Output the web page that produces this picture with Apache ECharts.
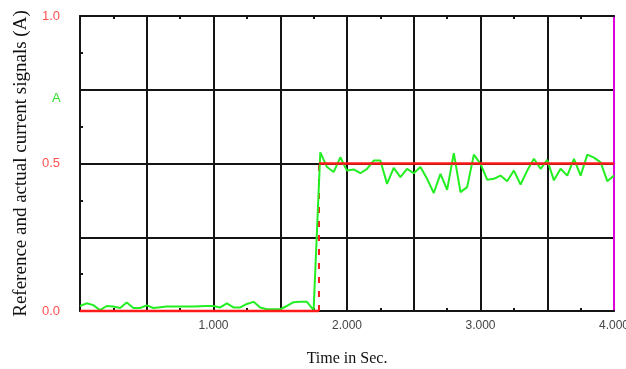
<!DOCTYPE html>
<html>
<head>
<meta charset="utf-8">
<script src="https://cdn.jsdelivr.net/npm/echarts@6/dist/echarts.min.js"></script>
<style>
  html, body { margin: 0; padding: 0; background: #ffffff; }
  #chart { width: 626px; height: 369px; }
</style>
</head>
<body>
<div id="chart"></div>
<script>
// Sampling grid of the measured current (seconds)
const sampleStep = 0.05;

// Measured (actual) current, one value per sample, in amperes
const actualCurrent = [
  0.017, 0.026, 0.020, 0.003, 0.017, 0.015, 0.010, 0.029, 0.010, 0.010,
  0.019, 0.010, 0.013, 0.015, 0.015, 0.015, 0.015, 0.015, 0.016, 0.017,
  0.017, 0.012, 0.026, 0.012, 0.012, 0.024, 0.031, 0.012, 0.006, 0.006,
  0.006, 0.017, 0.030, 0.031, 0.031, 0.003,
  0.538, 0.488, 0.471, 0.521, 0.476, 0.480, 0.467, 0.482, 0.510, 0.510,
  0.431, 0.485, 0.454, 0.482, 0.467, 0.488, 0.448, 0.400, 0.465, 0.411,
  0.535, 0.403, 0.420, 0.530, 0.499, 0.445, 0.448, 0.459, 0.440, 0.476,
  0.429, 0.476, 0.516, 0.482, 0.512, 0.443, 0.482, 0.459, 0.516, 0.459,
  0.530, 0.520, 0.504, 0.440, 0.459
];

// Reference current: a single step
const refStepTime = 1.79;
const refLevels = [0.0, 0.5];
const timeRange = [0, 4];

// Axis tick labels
const xTickLabels = ['1.000', '2.000', '3.000', '4.000'];
const yTickLabels = ['0.0', '0.5', '1.0'];

const currentData = actualCurrent.map((v, i) => [i * sampleStep, v]);

const tickFont = "'Liberation Sans', Arial, sans-serif";
const nameFont = "'Liberation Serif', 'DejaVu Serif', serif";
const gridColor = '#141414';
const refColor = '#ff1a1a';
const actColor = '#22ee22';

function xLabel(value) {
  const idx = Math.round(value) - 1;
  return Math.abs(value - Math.round(value)) < 1e-6 && idx >= 0 ? xTickLabels[idx] : '';
}
function yLabel(value) {
  const idx = Math.round(value * 2);
  return Math.abs(value * 2 - idx) < 1e-6 ? yTickLabels[idx] : '';
}

const chart = echarts.init(document.getElementById('chart'), null, { renderer: 'canvas' });

chart.setOption({
  animation: false,
  backgroundColor: '#ffffff',
  grid: { left: 80, right: 12, top: 16, bottom: 58, containLabel: false, outerBoundsMode: 'none' },
  xAxis: [
    {
      type: 'value', min: timeRange[0], max: timeRange[1], interval: 0.5,
      position: 'bottom',
      axisLine: { show: true, onZero: false, lineStyle: { color: gridColor, width: 2 } },
      axisTick: { show: false, inside: true },
      minorTick: { show: true, splitNumber: 2, length: 3, lineStyle: { color: gridColor, width: 2 } },
      splitLine: { show: true, lineStyle: { color: gridColor, width: 2 } },
      axisLabel: { formatter: xLabel, color: '#444444', fontSize: 12, fontFamily: tickFont, margin: 9 },
      name: 'Time in Sec.', nameLocation: 'middle', nameGap: 40,
      nameTextStyle: { fontFamily: nameFont, fontSize: 16, color: '#111111' }
    },
    {
      type: 'value', min: timeRange[0], max: timeRange[1], interval: 0.5,
      position: 'top',
      axisLine: { show: true, onZero: false, lineStyle: { color: gridColor, width: 2 } },
      axisTick: { show: false, inside: true },
      minorTick: { show: true, splitNumber: 2, length: 3, lineStyle: { color: gridColor, width: 2 } },
      splitLine: { show: false },
      axisLabel: { show: false }
    }
  ],
  yAxis: [
    {
      type: 'value', min: 0, max: 1, interval: 0.25,
      position: 'left',
      axisLine: { show: true, onZero: false, lineStyle: { color: gridColor, width: 2 } },
      axisTick: { show: false, inside: true },
      minorTick: { show: true, splitNumber: 2, length: 3, lineStyle: { color: gridColor, width: 2 } },
      splitLine: { show: true, lineStyle: { color: gridColor, width: 2 } },
      axisLabel: { formatter: yLabel, color: '#ff5050', fontSize: 13, fontFamily: tickFont, margin: 20 },
      name: 'Reference and actual current signals (A)',
      nameLocation: 'middle', nameGap: 49, nameRotate: 90,
      nameTextStyle: { fontFamily: nameFont, fontSize: 19, color: '#111111' }
    },
    {
      type: 'value', min: 0, max: 1, interval: 0.25,
      position: 'right',
      axisLine: { show: true, onZero: false, lineStyle: { color: '#dd00dd', width: 2 } },
      axisTick: { show: false },
      splitLine: { show: false },
      axisLabel: { show: false }
    }
  ],
  graphic: [
    {
      type: 'text', left: 52, top: 92,
      style: { text: 'A', fill: '#33dd33', font: "13px 'Liberation Sans', Arial, sans-serif" }
    }
  ],
  series: [
    {
      name: 'Actual', type: 'line', data: currentData,
      showSymbol: false, symbol: 'none', clip: false, z: 3,
      lineStyle: { color: actColor, width: 2 }
    },
    {
      name: 'Reference', type: 'line',
      data: [[timeRange[0], refLevels[0]], [refStepTime, refLevels[0]]],
      showSymbol: false, symbol: 'none', clip: false, z: 4,
      lineStyle: { color: refColor, width: 2.5 }
    },
    {
      name: 'Reference', type: 'line',
      data: [[refStepTime, refLevels[1]], [timeRange[1], refLevels[1]]],
      showSymbol: false, symbol: 'none', clip: false, z: 4,
      lineStyle: { color: refColor, width: 2.5 }
    },
    {
      name: 'Reference', type: 'line',
      data: [[refStepTime, refLevels[0]], [refStepTime, refLevels[1]]],
      showSymbol: false, symbol: 'none', clip: false, z: 2,
      lineStyle: { color: refColor, width: 2, type: [6, 8] }
    }
  ]
});
</script>
</body>
</html>
